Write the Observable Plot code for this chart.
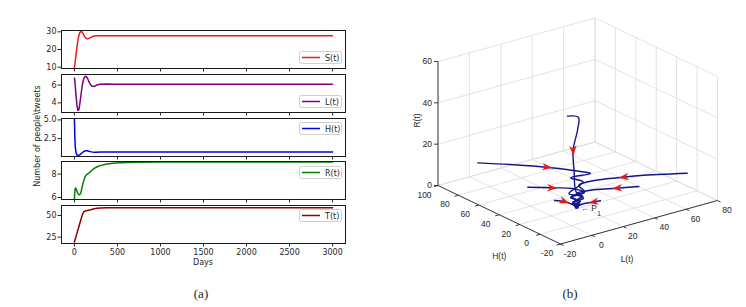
<!DOCTYPE html>
<html>
<head>
<meta charset="utf-8">
<script src="https://cdn.jsdelivr.net/npm/d3@7"></script>
<script src="https://cdn.jsdelivr.net/npm/@observablehq/plot@0.6"></script>
<style>
html,body{margin:0;padding:0;background:#fff;}
#fig{position:relative;width:746px;height:307px;overflow:hidden;background:#fff;}
#fig > *{position:absolute;}
.lbl{white-space:nowrap;line-height:1;color:#262626;}
</style>
</head>
<body>
<div id="fig"></div>
<script>
// ---------------- Panel (a): time series ----------------
const days = [0,5,10,20,30,40,50,60,75,90,105,120,135,150,175,200,230,260,300,375,450,530,700,1000,1500,2000,2500,3000];
const S = [9.5,11.5,13.5,17.5,21.5,25,27.5,29.3,30.3,29.8,28.5,27.2,26.4,26.1,26.4,27.1,27.6,27.8,27.85,27.8,27.8,27.8,27.8,27.8,27.8,27.8,27.8,27.8];
const L = [6.8,6.5,5.9,4.7,3.7,3.15,3.2,3.7,4.8,5.9,6.6,6.95,7.0,6.8,6.25,5.9,5.85,6.0,6.1,6.12,6.1,6.1,6.1,6.1,6.1,6.1,6.1,6.1];
const H = [5.1,2.8,1.4,0.55,0.3,0.24,0.25,0.3,0.45,0.6,0.74,0.83,0.87,0.86,0.78,0.72,0.68,0.68,0.7,0.7,0.7,0.7,0.7,0.7,0.7,0.7,0.7,0.7];
const R = [5.9,6.5,6.8,6.75,6.55,6.35,6.25,6.23,6.4,6.9,7.35,7.7,7.9,8.0,8.12,8.3,8.48,8.6,8.72,8.85,8.92,8.97,9.0,9.02,9.02,9.02,9.02,9.02];
const T = [19.5,21.2,22.9,26.3,29.7,33.1,36.5,39.9,45,50,53.8,55,55.4,55.7,56.3,57,57.7,58.2,58.6,58.9,59,59,59,59,59,59,59,59];
const seriesNames = ["S(t)","L(t)","H(t)","R(t)","T(t)"];
const dayTicks = [0,500,1000,1500,2000,2500,3000];
const yTicksS = [10,20,30], yTicksL = [4,6], yTicksH = [2.5,5.0], yTicksR = [6,8], yTicksT = [25,50];

// ---------------- Panel (b): 3D trajectories, points are [L, H, R] ----------------
const trajA = [[0,4,52],[7,4,50],[6,3,45],[3,3,35],[3,2,25],[4,1.5,15],[8,1,12],[1,1,10],[6,1,9],[3,1,8.3],[4,1,8]];
const trajB = [[-2.3,88.3,10],[9.5,74.3,10],[22,57.6,10],[31.8,40.1,10],[34.2,33.9,10],[22.5,35.5,10],[24.9,26.9,9.5],[10.25,18.3,9],[13.55,11.35,8.6],[4.8,6.3,8.3],[4,1,8]];
const trajC = [[0.8,44,8],[10.1,34.5,8],[17.7,26.3,8],[19.2,16.8,8],[9.3,15.3,8],[10,6.5,8],[5,4.8,8],[4,1,8]];
const trajD = [[0.35,17.2,8],[3.5,12.3,8],[4.2,6.5,8],[4,1,8]];
const trajE = [[76.9,4.9,8],[52.6,13.3,10],[43.6,15.8,10.5],[25.9,21.2,11],[17.5,20,11],[16.5,12.7,10],[8.8,13.6,9],[8.7,5.5,8.5],[4.25,3.6,8.2],[4,1,8]];
const trajF = [[46.2,5,8],[36,10.6,8],[22.6,17.8,8],[15.1,18.3,8],[13.7,9.3,8],[5.9,8.1,8],[4,1,8]];
const trajG = [[18.6,0.23,8],[14.8,1.2,8],[8.7,2.6,8],[4,1,8]];
const arrowsAt = [[0,3],[1,2],[2,1],[3,1],[4,2],[5,1],[6,1]]; // [trajectory, point index]
const P1 = [4,1,8];
const LTicks = [-20,0,20,40,60,80];
const HTicks = [-20,0,20,40,60,80,100];
const RTicks = [0,20,40,60];

// ---------------- layout helpers ----------------
const fig = document.getElementById("fig");
function addText(txt, x, y, opts = {}) {
  const d = document.createElement("div");
  d.className = "lbl";
  d.textContent = txt;
  d.style.left = x + "px";
  d.style.top = y + "px";
  d.style.fontFamily = opts.font || "DejaVu Sans";
  d.style.fontSize = (opts.size || 8) + "px";
  d.style.transform = "translate(-50%,-50%)" + (opts.rotate ? ` rotate(${opts.rotate}deg)` : "");
  fig.appendChild(d);
}
function addLegend(name, color, left, top) {
  const ns = "http://www.w3.org/2000/svg";
  const s = document.createElementNS(ns, "svg");
  s.setAttribute("width", 43); s.setAttribute("height", 13);
  s.style.left = left + "px"; s.style.top = top + "px";
  s.innerHTML = `<rect x="0.5" y="0.5" width="42" height="12" rx="2" fill="#fff" fill-opacity="0.85" stroke="#cfcfcf" stroke-width="1"/>
    <line x1="3" x2="21" y1="6.5" y2="6.5" stroke="${color}" stroke-width="1.5"/>
    <text x="26" y="9.5" font-family="DejaVu Sans" font-size="8" fill="#262626">${name}</text>`;
  fig.appendChild(s);
}

// ---------------- Panel (a) ----------------
const panelH = 38;
const panels = [
  {vals:S, color:"#ee1c1c", top:30,    domain:[9.25,30.75], ticks:yTicksS, fmt:d=>String(d),     legendTop:51},
  {vals:L, color:"#800080", top:73.5,  domain:[2.92,7.19],  ticks:yTicksL, fmt:d=>String(d),     legendTop:94.5},
  {vals:H, color:"#0000ee", top:117.5, domain:[0.1,5.19],   ticks:yTicksH, fmt:d=>d.toFixed(1),  legendTop:122},
  {vals:R, color:"#008000", top:161,   domain:[5.83,9.07],  ticks:yTicksR, fmt:d=>String(d),     legendTop:166},
  {vals:T, color:"#8b0000", top:204.5, domain:[17.7,61.5],  ticks:yTicksT, fmt:d=>String(d),     legendTop:209},
];
panels.forEach((p, i) => {
  const last = i === panels.length - 1;
  const mt = 2, mb = last ? 22 : 6;
  const rows = days.map((d, j) => ({d, v: p.vals[j]}));
  const svg = Plot.plot({
    width: 360, height: panelH + mt + mb,
    marginLeft: 61, marginRight: 15, marginTop: mt, marginBottom: mb,
    style: {fontFamily: "DejaVu Sans", fontSize: "8px", color: "#262626", background: "transparent", overflow: "visible"},
    x: {domain: [-150, 3150], axis: null},
    y: {domain: p.domain, axis: null},
    marks: [
      Plot.line(rows, {x: "d", y: "v", stroke: p.color, strokeWidth: 1.5, clip: true}),
      Plot.frame({stroke: "#1a1a1a", strokeWidth: 1}),
      Plot.axisX({ticks: dayTicks, tickSize: 3.5, tickPadding: 2, tickFormat: last ? d => String(d) : () => "", label: null}),
      Plot.axisY({ticks: p.ticks, tickSize: 3.5, tickPadding: 1.5, tickFormat: p.fmt, label: null})
    ]
  });
  svg.style.left = "0px";
  svg.style.top = (p.top - mt) + "px";
  fig.appendChild(svg);
  addLegend(seriesNames[i], p.color, 299, p.legendTop);
});
addText("Days", 203, 263);
addText("Number of people\\tweets", 38, 136, {rotate: -90});
addText("(a)", 201, 293, {font: "Liberation Serif", size: 13});

// ---------------- Panel (b): orthographic 3D view ----------------
const box = {L: [-20, 80], H: [-20, 100], R: [0, 60]};
const eL = [157, -43.5], eH = [-122.5, -58.5], eR = [0, -124];   // screen direction of each full axis span
function proj([l, h, r]) {
  const a = (l - box.L[0]) / (box.L[1] - box.L[0]);
  const b = (h - box.H[0]) / (box.H[1] - box.H[0]);
  const c = (r - box.R[0]) / (box.R[1] - box.R[0]);
  return [a * eL[0] + b * eH[0] + c * eR[0], a * eL[1] + b * eH[1] + c * eR[1]];
}
function seg(p, q) { const [x1, y1] = proj(p), [x2, y2] = proj(q); return {x1, y1, x2, y2}; }

const [L0, L1] = box.L, [H0, H1] = box.H, [R0, R1] = box.R;
const grid = [
  ...LTicks.map(l => seg([l, H0, R0], [l, H1, R0])),
  ...HTicks.map(h => seg([L0, h, R0], [L1, h, R0])),
  ...LTicks.map(l => seg([l, H1, R0], [l, H1, R1])),
  ...RTicks.map(r => seg([L0, H1, r], [L1, H1, r])),
  ...HTicks.map(h => seg([L1, h, R0], [L1, h, R1])),
  ...RTicks.map(r => seg([L1, H0, r], [L1, H1, r]))
];
const axes = [seg([L0, H0, R0], [L1, H0, R0]), seg([L0, H0, R0], [L0, H1, R0]), seg([L0, H1, R0], [L0, H1, R1])];
const ticks = [
  ...HTicks.map(h => seg([L0, h, R0], [L0 - 2.5, h, R0])),
  ...LTicks.map(l => seg([l, H0, R0], [l, H0 - 3, R0])),
  ...RTicks.map(r => { const [x, y] = proj([L0, H1, r]); return {x1: x, y1: y, x2: x - 4, y2: y}; })
];
const hLab = HTicks.map(h => { const [x, y] = proj([L0, h, R0]); return {x, y, t: String(h)}; });
const lLab = LTicks.map(l => { const [x, y] = proj([l, H0, R0]); return {x, y, t: String(l)}; });
const rLab = RTicks.map(r => { const [x, y] = proj([L0, H1, r]); return {x, y, t: String(r)}; });

const trajs = [trajA, trajB, trajC, trajD, trajE, trajF, trajG];
const trajData = trajs.flatMap((t, k) => t.map(p => { const [u, v] = proj(p); return {u, v, k}; }));
const arrowData = arrowsAt.map(([k, i]) => {
  const [u, v] = proj(trajs[k][i]), [u2, v2] = proj(trajs[k][i + 1]);
  return {u, v, angle: Math.atan2(v2 - v, u2 - u) * 180 / Math.PI};
});
const arrowSymbol = {
  draw(ctx, size) {
    const r = Math.sqrt(size / Math.PI);
    ctx.moveTo(r, 0); ctx.lineTo(-r, -0.75 * r); ctx.lineTo(-0.4 * r, 0); ctx.lineTo(-r, 0.75 * r); ctx.closePath();
  }
};
const [p1u, p1v] = proj(P1);
const titleH = proj([L0, 40, R0]), titleL = proj([30, H0, R0]), titleR = proj([L0, H1, 30]);

const rp = Plot.plot({
  width: 366, height: 307, marginTop: 0, marginRight: 0, marginBottom: 0, marginLeft: 0,
  style: {fontFamily: "Liberation Sans", fontSize: "8.5px", color: "#262626", background: "transparent", overflow: "visible"},
  x: {domain: [-180, 186], range: [0, 366], axis: null},
  y: {domain: [-243.5, 63.5], range: [0, 307], axis: null},
  marks: [
    Plot.link(grid, {x1: "x1", y1: "y1", x2: "x2", y2: "y2", stroke: "#dcdcdc", strokeWidth: 0.8}),
    Plot.link(axes, {x1: "x1", y1: "y1", x2: "x2", y2: "y2", stroke: "#262626", strokeWidth: 0.9}),
    Plot.link(ticks, {x1: "x1", y1: "y1", x2: "x2", y2: "y2", stroke: "#262626", strokeWidth: 0.9}),
    Plot.text(hLab, {x: "x", y: "y", text: "t", dx: -13.5, dy: 9.5}),
    Plot.text(lLab, {x: "x", y: "y", text: "t", dx: 9.5, dy: 9.8}),
    Plot.text(rLab, {x: "x", y: "y", text: "t", dx: -6, textAnchor: "end"}),
    Plot.text([0], {x: () => titleH[0], y: () => titleH[1], text: () => "H(t)", dy: 42}),
    Plot.text([0], {x: () => titleL[0], y: () => titleL[1], text: () => "L(t)", dx: -12, dy: 37.5}),
    Plot.text([0], {x: () => titleR[0], y: () => titleR[1], text: () => "R(t)", dx: -21, dy: -3, rotate: -90}),
    Plot.line(trajData, {x: "u", y: "v", z: "k", stroke: "#14148c", strokeWidth: 1.4, curve: "catmull-rom"}),
    Plot.dot([0], {x: () => p1u, y: () => p1v, r: 2.3, fill: "#14148c"}),
    Plot.dot(arrowData, {x: "u", y: "v", r: 5, symbol: arrowSymbol, fill: "#f01414", stroke: "none", rotate: "angle"}),
    Plot.text([0], {x: () => p1u, y: () => p1v, text: () => "\u2190", dx: 5, dy: 1.5, textAnchor: "start", fontSize: 7}),
    Plot.text([0], {x: () => p1u, y: () => p1v, text: () => "P", dx: 14.5, dy: 1, textAnchor: "start", fontSize: 8.5}),
    Plot.text([0], {x: () => p1u, y: () => p1v, text: () => "1", dx: 20.5, dy: 7, textAnchor: "start", fontSize: 6.5})
  ]
});
rp.style.left = "380px";
rp.style.top = "0px";
fig.appendChild(rp);
addText("(b)", 570, 293, {font: "Liberation Serif", size: 13});
</script>
</body>
</html>
